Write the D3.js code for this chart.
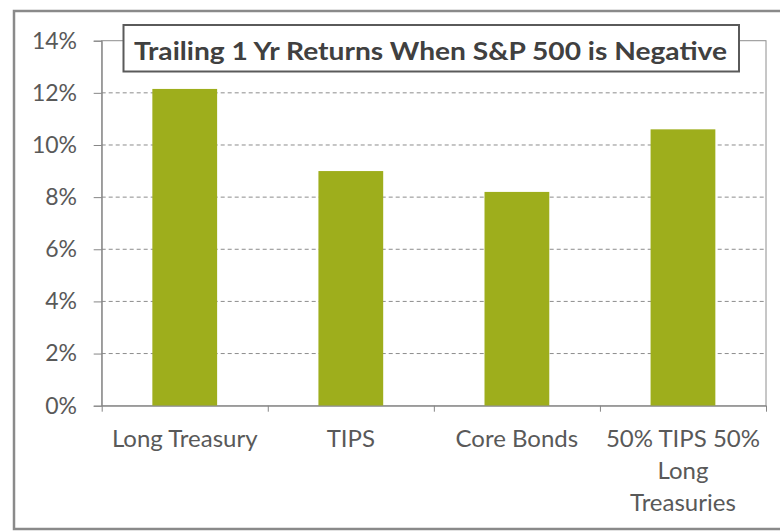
<!DOCTYPE html>
<meta charset="utf-8">
<script src="https://d3js.org/d3.v7.min.js"></script>
<style>
  body { margin: 0; background: #fff; }
  text { font-family: Lato, "Open Sans", sans-serif; }
</style>
<div id="chart"></div>
<script>
  // data
  const categories = ["Long Treasury", "TIPS", "Core Bonds", "50% TIPS 50% Long Treasuries"];
  const labelLines = [["Long Treasury"], ["TIPS"], ["Core Bonds"], ["50% TIPS 50%", "Long", "Treasuries"]];
  const returns = [12.15, 9.0, 8.2, 10.6];
  const yTicks = [0, 2, 4, 6, 8, 10, 12, 14];
  const chartTitle = "Trailing 1 Yr Returns When S&P 500 is Negative";

  const W = 780, H = 531;
  const plot = {left: 101.7, right: 766, top: 40.7, bottom: 405.7};

  const svg = d3.select("#chart").append("svg")
      .attr("width", W)
      .attr("height", H);

  // outer frame (runs off the right edge in the original)
  svg.append("rect")
      .attr("x", 14).attr("y", 11)
      .attr("width", 820).attr("height", 518)
      .attr("fill", "#fff")
      .attr("stroke", "#8a8a8a")
      .attr("stroke-width", 2.5);

  const x = d3.scaleBand()
      .domain(categories)
      .range([plot.left, plot.right])
      .paddingInner(0.61)
      .paddingOuter(0.305);

  const y = d3.scaleLinear()
      .domain([0, 14])
      .range([plot.bottom, plot.top]);

  // dashed gridlines
  svg.append("g")
    .selectAll("line")
    .data(yTicks.filter(d => d > 0 && d < 14))
    .join("line")
      .attr("x1", plot.left).attr("x2", plot.right)
      .attr("y1", d => y(d)).attr("y2", d => y(d))
      .attr("stroke", "#8c8c8c")
      .attr("stroke-width", 1)
      .attr("stroke-dasharray", "4,3");

  // plot area border
  svg.append("rect")
      .attr("x", plot.left).attr("y", plot.top)
      .attr("width", plot.right - plot.left)
      .attr("height", plot.bottom - plot.top)
      .attr("fill", "none")
      .attr("stroke", "#8e8e8e")
      .attr("stroke-width", 1);

  // bars
  svg.append("g")
    .selectAll("rect")
    .data(categories)
    .join("rect")
      .attr("x", d => x(d))
      .attr("y", (d, i) => y(returns[i]))
      .attr("width", x.bandwidth())
      .attr("height", (d, i) => y(0) - y(returns[i]))
      .attr("fill", "#9eae1c");

  // y axis
  const yAxis = svg.append("g")
      .attr("transform", `translate(${plot.left},0)`)
      .call(d3.axisLeft(y).tickValues(yTicks).tickSize(8).tickPadding(16.7).tickFormat(d => d + "%"));
  yAxis.select(".domain").attr("stroke", "#868686");
  yAxis.selectAll(".tick line").attr("stroke", "#868686");
  yAxis.selectAll(".tick text")
      .attr("font-size", 23)
      .attr("fill", "#595959")
      .attr("font-family", "Lato, sans-serif");

  // x axis: ticks at the band boundaries
  const xb = d3.scaleLinear().domain([0, categories.length]).range([plot.left, plot.right]);
  const xAxis = svg.append("g")
      .attr("transform", `translate(0,${plot.bottom})`)
      .call(d3.axisBottom(xb).tickValues(d3.range(categories.length + 1)).tickSize(6).tickSizeOuter(0).tickFormat(""));
  xAxis.select(".domain").attr("stroke", "#868686");
  xAxis.selectAll(".tick line").attr("stroke", "#868686");

  // category labels
  svg.append("g")
    .selectAll("text")
    .data(categories)
    .join("text")
      .attr("x", d => x(d) + x.bandwidth() / 2)
      .attr("y", 446.5)
      .attr("text-anchor", "middle")
      .attr("font-size", 24)
      .attr("fill", "#595959")
    .selectAll("tspan")
    .data((d, i) => labelLines[i])
    .join("tspan")
      .attr("x", function() { return this.parentNode.getAttribute("x"); })
      .attr("dy", (d, i) => i === 0 ? 0 : 32)
      .text(d => d);

  // title box
  svg.append("rect")
      .attr("x", 123.5).attr("y", 25)
      .attr("width", 615.5).attr("height", 46.5)
      .attr("fill", "#fff")
      .attr("stroke", "#5a5a5a")
      .attr("stroke-width", 2);

  svg.append("text")
      .attr("x", 430.5)
      .attr("y", 59.5)
      .attr("text-anchor", "middle")
      .attr("font-size", 25)
      .attr("font-weight", "bold")
      .attr("fill", "#404040")
      .attr("textLength", 593)
      .attr("lengthAdjust", "spacingAndGlyphs")
      .text(chartTitle);
</script>
</html>
